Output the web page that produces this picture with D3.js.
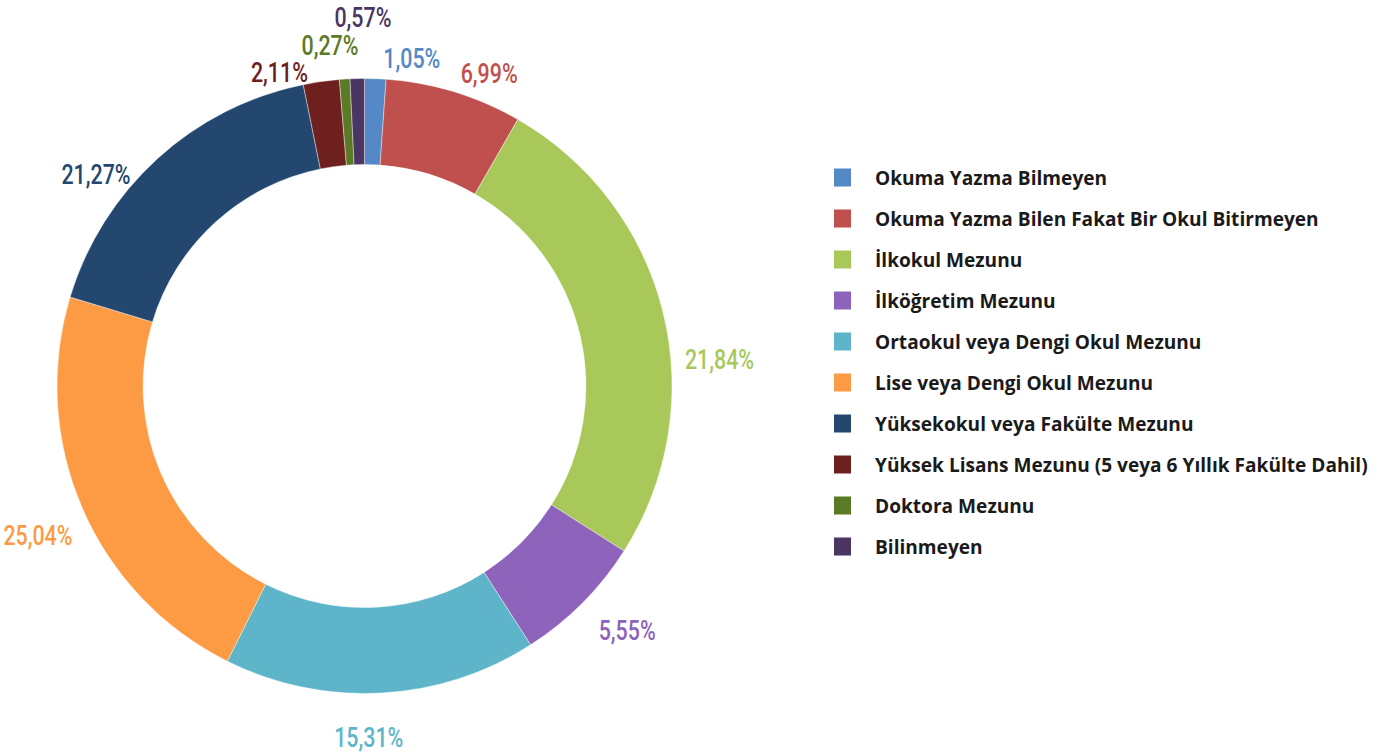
<!DOCTYPE html>
<html>
<head>
<meta charset="utf-8">
<script src="https://cdn.jsdelivr.net/npm/d3@7"></script>
<style>
  body { margin: 0; background: #fff; }
  .pct { font-family: Roboto, "Liberation Sans", sans-serif; font-weight: 500; font-size: 27px; }
  .leg { font-family: "Open Sans", "Noto Sans", sans-serif; font-weight: bold; font-size: 20px; fill: #1a1a1a; }
</style>
</head>
<body>
<div id="chart"></div>
<script>
// data
var categories = [
  "Okuma Yazma Bilmeyen",
  "Okuma Yazma Bilen Fakat Bir Okul Bitirmeyen",
  "İlkokul Mezunu",
  "İlköğretim Mezunu",
  "Ortaokul veya Dengi Okul Mezunu",
  "Lise veya Dengi Okul Mezunu",
  "Yüksekokul veya Fakülte Mezunu",
  "Yüksek Lisans Mezunu (5 veya 6 Yıllık Fakülte Dahil)",
  "Doktora Mezunu",
  "Bilinmeyen"
];
// printed labels
var labels = ["1,05%", "6,99%", "21,84%", "5,55%", "15,31%", "25,04%", "21,27%", "2,11%", "0,27%", "0,57%"];
// slice sizes as drawn in the picture (%)
var shares = [1.12, 7.19, 25.70, 6.91, 16.44, 22.31, 17.14, 1.89, 0.55, 0.75];
var colors = ["#5588c6", "#c0504d", "#a8c85a", "#8e63bc", "#5eb5ca", "#fd9b44", "#23476f", "#6e201f", "#5b7a25", "#4a3563"];

// label placement: angle shift (deg) from slice middle, distance from centre
var labelShift = [6.2, 4.8, 9.6, -1.9, 2.4, -1.2, -9.4, -7.1, -2.1, 1.1];
var labelDist = [331, 336, 356, 359, 352, 359, 342, 325, 342, 368];

var width = 1395, height = 755;
var cx = 364.5, cy = 386, outerR = 307.5, innerR = 221.5;

var svg = d3.select("#chart").append("svg")
    .attr("width", width)
    .attr("height", height);

var g = svg.append("g")
    .attr("transform", "translate(" + cx + "," + cy + ")");

var pie = d3.pie().sort(null).value(function(d) { return d; });
var arc = d3.arc().innerRadius(innerR).outerRadius(outerR);
var arcs = pie(shares);

g.selectAll("path.slice")
  .data(arcs)
  .enter().append("path")
    .attr("class", "slice")
    .attr("d", arc)
    .attr("fill", function(d, i) { return colors[i]; })
    .attr("stroke", "#fff")
    .attr("stroke-width", 0.4);

var pct = g.selectAll("text.pct")
  .data(arcs)
  .enter().append("text")
    .attr("class", "pct")
    .attr("text-anchor", "middle")
    .attr("dominant-baseline", "central")
    .attr("fill", function(d, i) { return colors[i]; })
    .text(function(d, i) { return labels[i]; });

// squeeze to a condensed look
var pctScale = 57 / pct.filter(function(d, i) { return i === 1; }).node().getComputedTextLength();
pct.attr("transform", function(d, i) {
  var a = (d.startAngle + d.endAngle) / 2 + labelShift[i] * Math.PI / 180;
  var x = Math.sin(a) * labelDist[i], y = -Math.cos(a) * labelDist[i];
  return "translate(" + x + "," + y + ") scale(" + pctScale + ",1)";
});

// legend
var legY = d3.scaleBand()
    .domain(categories)
    .range([157, 567]);

var leg = svg.append("g").attr("transform", "translate(834,0)");
var rows = leg.selectAll("g.row")
  .data(categories)
  .enter().append("g")
    .attr("class", "row")
    .attr("transform", function(d) { return "translate(0," + (legY(d) + legY.bandwidth() / 2) + ")"; });

rows.append("rect")
    .attr("x", 0)
    .attr("y", -9)
    .attr("width", 17)
    .attr("height", 18)
    .attr("fill", function(d, i) { return colors[i]; });

var legText = rows.append("text")
    .attr("class", "leg")
    .attr("dy", "0.36em")
    .text(function(d) { return d; });

var legScale = 493 / legText.filter(function(d, i) { return i === 7; }).node().getComputedTextLength();
legText.attr("transform", "translate(41,0) scale(" + legScale + ",1)");
</script>
</body>
</html>
